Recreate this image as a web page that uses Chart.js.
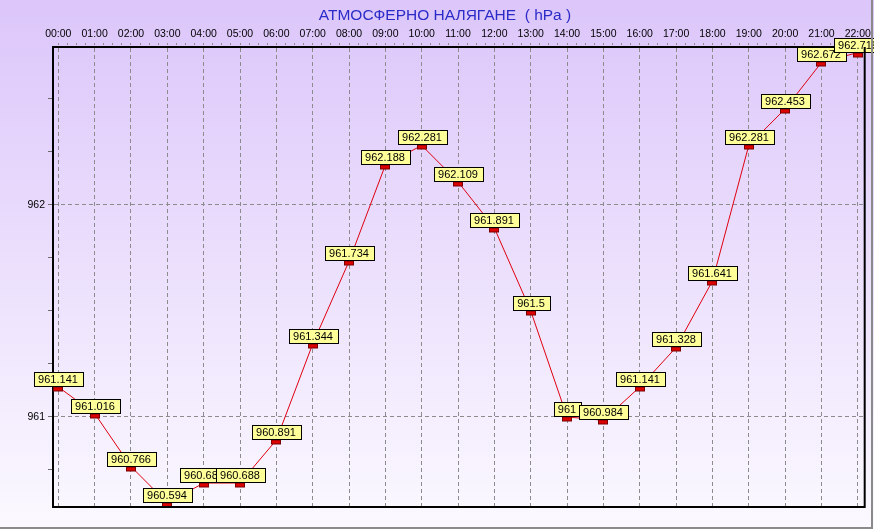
<!DOCTYPE html>
<html>
<head>
<meta charset="utf-8">
<script src="https://cdn.jsdelivr.net/npm/chart.js@4/dist/chart.umd.min.js"></script>
<style>
html,body{margin:0;padding:0;background:#fff;}
canvas{display:block;}
</style>
</head>
<body>
<canvas id="c" width="874" height="529"></canvas>
<script>
const chartTitle = 'АТМОСФЕРНО НАЛЯГАНЕ  ( hPa )';
const hours = ['00:00','01:00','02:00','03:00','04:00','05:00','06:00','07:00','08:00','09:00','10:00','11:00','12:00','13:00','14:00','15:00','16:00','17:00','18:00','19:00','20:00','21:00','22:00'];
const pressure = [961.141, 961.016, 960.766, 960.594, 960.688, 960.688, 960.891, 961.344, 961.734, 962.188, 962.281, 962.109, 961.891, 961.5, 961, 960.984, 961.141, 961.328, 961.641, 962.281, 962.453, 962.672, 962.719];
const yTickLabels = [961, 962];

const isInt = v => Math.abs(v - Math.round(v)) < 1e-6;

const bgPlugin = {
  id: 'bg',
  beforeDraw(chart) {
    const ctx = chart.ctx;
    const g = ctx.createLinearGradient(0, 0, 0, chart.height);
    g.addColorStop(0, '#dcc6fa');
    g.addColorStop(1, '#fbf9ff');
    ctx.save();
    ctx.fillStyle = g;
    ctx.fillRect(0, 0, chart.width, chart.height);
    ctx.fillStyle = '#2b2bc8';
    ctx.font = '15.5px "Liberation Sans", Arial, sans-serif';
    ctx.textAlign = 'center';
    ctx.textBaseline = 'middle';
    ctx.fillText(chartTitle, 445, 16);
    ctx.restore();
  },
  afterDraw(chart) {
    const ctx = chart.ctx;
    const a = chart.chartArea;
    ctx.save();
    ctx.strokeStyle = '#000';
    ctx.lineWidth = 2;
    ctx.beginPath();
    ctx.moveTo(a.right, a.top);
    ctx.lineTo(a.right, a.bottom);
    ctx.lineTo(a.left, a.bottom);
    ctx.stroke();
    ctx.strokeStyle = '#8a8a8a';
    ctx.lineWidth = 2;
    ctx.beginPath();
    ctx.moveTo(chart.width - 2, 0);
    ctx.lineTo(chart.width - 2, chart.height - 1);
    ctx.lineTo(0, chart.height - 1);
    ctx.stroke();
    ctx.restore();
  }
};

const labelPlugin = {
  id: 'ptlabels',
  afterDatasetsDraw(chart) {
    const ctx = chart.ctx;
    const meta = chart.getDatasetMeta(0);
    ctx.save();
    ctx.font = '11px "Liberation Sans", Arial, sans-serif';
    ctx.textAlign = 'center';
    ctx.textBaseline = 'middle';
    meta.data.forEach((el, i) => {
      const px = Math.round(el.x), py = Math.round(el.y);
      ctx.fillStyle = '#dd0000';
      ctx.strokeStyle = '#7a0000';
      ctx.lineWidth = 1;
      ctx.fillRect(px - 4.5, py, 9, 4);
      ctx.strokeRect(px - 4.5, py, 9, 4);
      const txt = String(pressure[i]);
      const w = Math.round(ctx.measureText(txt).width) + 9;
      const h = 14;
      const bx = Math.round(px - w / 2) + 0.5;
      const by = py - h - 0.5;
      ctx.fillStyle = '#ffff99';
      ctx.fillRect(bx, by, w, h);
      ctx.strokeStyle = '#000';
      ctx.strokeRect(bx, by, w, h);
      ctx.fillStyle = '#000';
      ctx.fillText(txt, px, by + h / 2 + 0.5);
    });
    ctx.restore();
  }
};

new Chart(document.getElementById('c'), {
  type: 'line',
  data: {
    datasets: [{
      data: pressure.map((v, i) => ({x: i, y: v})),
      borderColor: '#e00010',
      borderWidth: 1,
      pointRadius: 0,
      tension: 0,
      fill: false
    }]
  },
  options: {
    responsive: false,
    animation: false,
    layout: {padding: {top: 0, left: 0, right: 8, bottom: 22}},
    plugins: {legend: {display: false}, tooltip: {enabled: false}, title: {display: false}},
    scales: {
      x: {
        type: 'linear',
        position: 'top',
        min: -0.146,
        max: 22.19,
        afterFit(s) { s.height = 47; },
        ticks: {
          stepSize: 0.25,
          includeBounds: false,
          autoSkip: false,
          maxRotation: 0,
          padding: 3,
          color: '#000',
          font: {family: '"Liberation Sans", Arial, sans-serif', size: 10.5},
          callback: v => isInt(v) ? hours[Math.round(v)] : ''
        },
        grid: {
          color: c => (c.tick && isInt(c.tick.value)) ? '#8c8c8c' : 'rgba(0,0,0,0)',
          lineWidth: 1,
          tickColor: '#8c8c8c',
          tickLength: 4,
          tickBorderDash: [2, 2]
        },
        border: {display: true, color: '#000', width: 2, dash: [4, 3]}
      },
      y: {
        type: 'linear',
        min: 960.575,
        max: 962.745,
        afterFit(s) { s.width = 53; },
        ticks: {
          stepSize: 0.25,
          includeBounds: false,
          padding: 3,
          color: '#000',
          font: {family: '"Liberation Sans", Arial, sans-serif', size: 10.5},
          callback: v => (isInt(v) && yTickLabels.includes(Math.round(v))) ? String(Math.round(v)) : ''
        },
        grid: {
          color: c => (c.tick && isInt(c.tick.value)) ? '#8c8c8c' : 'rgba(0,0,0,0)',
          lineWidth: 1,
          tickColor: '#6c6c6c',
          tickLength: 5
        },
        border: {display: true, color: '#000', width: 2, dash: [4, 3]}
      }
    }
  },
  plugins: [bgPlugin, labelPlugin]
});
</script>
</body>
</html>
